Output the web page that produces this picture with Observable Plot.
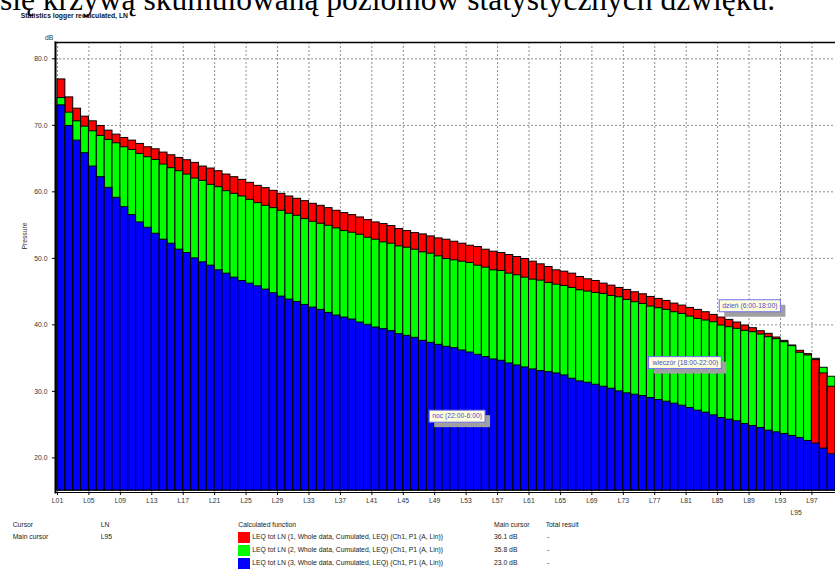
<!DOCTYPE html>
<html><head><meta charset="utf-8">
<script src="https://cdn.jsdelivr.net/npm/d3@7"></script>
<script src="https://cdn.jsdelivr.net/npm/@observablehq/plot@0.6"></script>
<style>
html,body{margin:0;padding:0;background:#fff;overflow:hidden;}
#page{position:relative;width:835px;height:570px;font-family:"Liberation Sans",Arial,sans-serif;color:#222;}
.abs{position:absolute;white-space:nowrap;}
#chart{position:absolute;left:0;top:0;}
</style></head><body><div id="page"><div id="chart"></div></div>
<script>
const levels = ["L01","L02","L03","L04","L05","L06","L07","L08","L09","L10",
"L11","L12","L13","L14","L15","L16","L17","L18","L19","L20",
"L21","L22","L23","L24","L25","L26","L27","L28","L29","L30",
"L31","L32","L33","L34","L35","L36","L37","L38","L39","L40",
"L41","L42","L43","L44","L45","L46","L47","L48","L49","L50",
"L51","L52","L53","L54","L55","L56","L57","L58","L59","L60",
"L61","L62","L63","L64","L65","L66","L67","L68","L69","L70",
"L71","L72","L73","L74","L75","L76","L77","L78","L79","L80",
"L81","L82","L83","L84","L85","L86","L87","L88","L89","L90",
"L91","L92","L93","L94","L95","L96","L97","L98","L99"];
const tickLabels = ["L01","L05","L09","L13","L17","L21","L25","L29","L33","L37","L41","L45","L49","L53","L57","L61","L65","L69","L73","L77","L81","L85","L89","L93","L97"];
const yTicks = [20,30,40,50,60,70,80];

// series 1: dzień (red)
const dzien = [76.9,74.2,72.5,71.3,70.6,69.9,69.2,68.6,68.1,67.7,
67.2,66.7,66.4,65.9,65.5,65.1,64.75,64.35,63.8,63.5,
63.1,62.6,62.2,61.8,61.35,60.9,60.55,60.15,59.7,59.3,
58.95,58.6,58.2,57.9,57.55,57.15,56.8,56.5,56.15,55.75,
55.4,55.15,54.85,54.4,54.1,53.8,53.6,53.3,53.0,52.8,
52.5,52.2,51.9,51.7,51.3,51.0,50.8,50.5,50.2,49.9,
49.5,49.1,48.7,48.2,48.0,47.7,47.2,46.85,46.6,46.2,
45.9,45.55,45.25,44.9,44.6,44.2,43.9,43.6,43.2,42.9,
42.55,42.25,41.9,41.5,41.1,40.75,40.35,39.9,39.5,39.05,
38.65,38.1,37.6,36.9,36.1,35.6,34.7,32.7,30.7];
// series 2: wieczór (green)
const wieczor = [74.1,71.9,70.6,69.8,69.1,68.4,67.8,67.3,66.7,66.3,
65.7,65.2,64.8,64.1,63.55,63.1,62.6,62.0,61.65,61.05,
60.7,60.1,59.7,59.3,58.8,58.3,57.9,57.55,57.15,56.7,
56.4,55.9,55.5,55.2,54.9,54.5,54.1,53.85,53.55,53.1,
52.8,52.4,52.2,51.8,51.6,51.3,50.9,50.7,50.3,49.9,
49.7,49.5,49.3,48.9,48.6,48.2,48.1,47.7,47.45,47.1,
46.8,46.65,46.3,46.05,45.85,45.55,45.2,45.0,44.8,44.65,
44.35,44.15,43.75,43.4,43.15,42.75,42.5,42.25,41.9,41.65,
41.25,40.9,40.65,40.4,39.9,39.65,39.4,39.1,38.9,38.55,
38.15,37.85,37.4,36.8,35.8,35.4,34.9,33.55,32.2];
// series 3: noc (blue)
const noc = [73.0,69.9,67.7,65.8,63.8,62.2,60.6,59.1,57.7,56.5,
55.4,54.6,53.7,52.8,52.2,51.3,50.8,50.0,49.4,48.9,
48.2,47.7,47.1,46.6,46.2,45.8,45.3,44.75,44.25,43.8,
43.45,43.0,42.6,42.25,41.8,41.4,41.1,40.8,40.35,40.0,
39.6,39.35,39.05,38.6,38.35,38.05,37.6,37.3,37.0,36.7,
36.5,36.15,35.85,35.5,35.15,34.8,34.6,34.2,33.9,33.6,
33.3,33.05,32.9,32.7,32.4,31.9,31.5,31.3,31.0,30.7,
30.4,30.0,29.7,29.5,29.3,29.0,28.7,28.45,28.15,27.85,
27.5,27.1,26.8,26.4,26.0,25.75,25.5,25.1,24.8,24.5,
24.1,23.85,23.6,23.3,23.0,22.55,22.15,21.4,20.55];

const seriesNames = ["LEQ tot LN (1, Whole data, Cumulated, LEQ) (Ch1, P1 (A, Lin))",
"LEQ tot LN (2, Whole data, Cumulated, LEQ) (Ch1, P1 (A, Lin))",
"LEQ tot LN (3, Whole data, Cumulated, LEQ) (Ch1, P1 (A, Lin))"];
const seriesColors = ["#ff0000","#00ff00","#0000ff"];
const cursorLevel = "L95";
const cursorValues = ["36.1 dB","35.8 dB","23.0 dB"];
const annotationTexts = ["dzień (6:00-18:00)","wieczór (18:00-22:00)","noc (22:00-6:00)"];
const annotationAt = [[88.1,42.9],[79.9,34.35],[50.85,26.3]]; // [x index, dB]

const series = [dzien, wieczor, noc];
const rows = [];
levels.forEach((l,i)=>series.forEach((arr,s)=>rows.push({level:l,i,s,value:arr[i]})));
rows.sort((a,b)=>b.value-a.value); // taller bars behind shorter ones
const yMin = 15.1, yMax = 82.45;
const tickIdx = tickLabels.map(t=>levels.indexOf(t));
const annotations = annotationTexts.map((t,k)=>({text:t,x:annotationAt[k][0],y:annotationAt[k][1]}));
const cur = levels.indexOf(cursorLevel);

const chart = Plot.plot({
  width:835, height:520,
  marginTop:42, marginBottom:28, marginLeft:55, marginRight:0,
  x:{type:"linear", domain:[0,levels.length], insetLeft:2},
  y:{domain:[yMin,yMax], insetBottom:2},
  color:{type:"ordinal", domain:[0,1,2], range:seriesColors},
  style:{fontFamily:'"Liberation Sans",Arial,sans-serif', fontSize:"6.8px", color:"#333", background:"transparent", overflow:"visible"},
  marks:[
    Plot.gridX(tickIdx, {stroke:"#8c8c8c", strokeOpacity:1, strokeDasharray:"2,2"}),
    Plot.gridY(yTicks, {stroke:"#8c8c8c", strokeOpacity:1, strokeDasharray:"2,2"}),
    Plot.rect(rows, {x1:d=>d.i, x2:d=>d.i+1, y1:()=>yMin, y2:"value", fill:"s", stroke:"#000", strokeWidth:1}),
    Plot.axisY(yTicks, {tickSize:3, tickPadding:5, tickFormat:d=>d.toFixed(1), label:null, stroke:"#000", fill:"#333"}),
    Plot.axisX(tickIdx, {tickSize:3, tickPadding:3, tickFormat:i=>levels[i], label:null, stroke:"#000", fill:"#333"}),
    Plot.frame({anchor:"left", stroke:"#000", strokeWidth:2}),
    Plot.frame({anchor:"top", stroke:"#000", strokeWidth:1.5}),
    Plot.frame({anchor:"bottom", stroke:"#000", strokeWidth:1.2}),
    Plot.text([cursorLevel], {x:()=>cur, frameAnchor:"bottom", dy:22, text:d=>d, fill:"#333"}),
    Plot.text(annotations, {x:"x", y:"y", text:"text", fill:"#4a4ad0", fontSize:6.8, className:"ann"})
  ]
});
document.getElementById("chart").appendChild(chart);

// annotation boxes with shadows
const ns = "http://www.w3.org/2000/svg";
chart.querySelectorAll("g.ann text").forEach(t=>{
  const b = t.getBBox();
  const tr = t.getAttribute("transform");
  const mk = (x,y,w,h,fill,stroke)=>{
    const r = document.createElementNS(ns,"rect");
    r.setAttribute("x",x);r.setAttribute("y",y);r.setAttribute("width",w);r.setAttribute("height",h);
    r.setAttribute("fill",fill);
    if(stroke){r.setAttribute("stroke",stroke);r.setAttribute("stroke-width",1);}
    if(tr) r.setAttribute("transform",tr);
    return r;
  };
  const px=3, py=2;
  t.parentNode.insertBefore(mk(b.x-px+5,b.y-py+5,b.width+2*px,b.height+2*py,"#a0a0a0",null),t);
  t.parentNode.insertBefore(mk(b.x-px,b.y-py,b.width+2*px,b.height+2*py,"#ffffdc","#6f6ff5"),t);
});

// surrounding texts
const page = document.getElementById("page");
function addText(txt, left, cy, style){
  const d = document.createElement("div");
  d.className="abs"; d.textContent = txt;
  d.style.left = left+"px";
  const lh = 10; d.style.lineHeight = lh+"px"; d.style.top = (cy-lh/2)+"px";
  d.style.fontSize = "6.8px";
  Object.assign(d.style, style||{});
  page.appendChild(d); return d;
}
// cropped serif heading (only the lower part is visible in the page)
const headSvg = document.createElementNS(ns,"svg");
headSvg.setAttribute("width",835); headSvg.setAttribute("height",30);
Object.assign(headSvg.style,{position:"absolute",left:"0px",top:"0px"});
const headText = document.createElementNS(ns,"text");
headText.setAttribute("x",0); headText.setAttribute("y",10);
headText.setAttribute("font-family",'"Liberation Serif","Times New Roman",serif');
headText.setAttribute("font-size",31.5); headText.setAttribute("fill","#000");
headText.textContent="się krzywą skumulowaną poziomów statystycznych dźwięku.";
headSvg.appendChild(headText); page.appendChild(headSvg);

addText("Statistics logger recalculated, LN", 20.7, 16, {fontWeight:"bold", color:"#111"});
addText("dB", 45, 38, {color:"#333"});
const pr = addText("Pressure", 0, 236, {color:"#333"});
pr.style.transform="rotate(-90deg)"; pr.style.transformOrigin="center";
pr.style.left = (15.5 - pr.getBoundingClientRect().width/2)+"px";

const rowsY = [524.5, 537, 550, 563];
addText("Cursor", 12.7, rowsY[0]);
addText("LN", 100.7, rowsY[0]);
addText("Main cursor", 12.7, rowsY[1]);
addText(cursorLevel, 100.7, rowsY[1]);
addText("Calculated function", 238.3, rowsY[0]);
addText("Main cursor", 494, rowsY[0]);
addText("Total result", 545.7, rowsY[0]);
seriesNames.forEach((n,k)=>{
  const sw = document.createElement("div");
  sw.className="abs";
  Object.assign(sw.style,{left:"238px",top:(rowsY[k+1]-5.5)+"px",width:"12px",height:"11px",background:seriesColors[k]});
  page.appendChild(sw);
  addText(n, 252.3, rowsY[k+1]);
  addText(cursorValues[k], 494, rowsY[k+1]);
  addText("-", 547, rowsY[k+1]);
});
</script></body></html>
